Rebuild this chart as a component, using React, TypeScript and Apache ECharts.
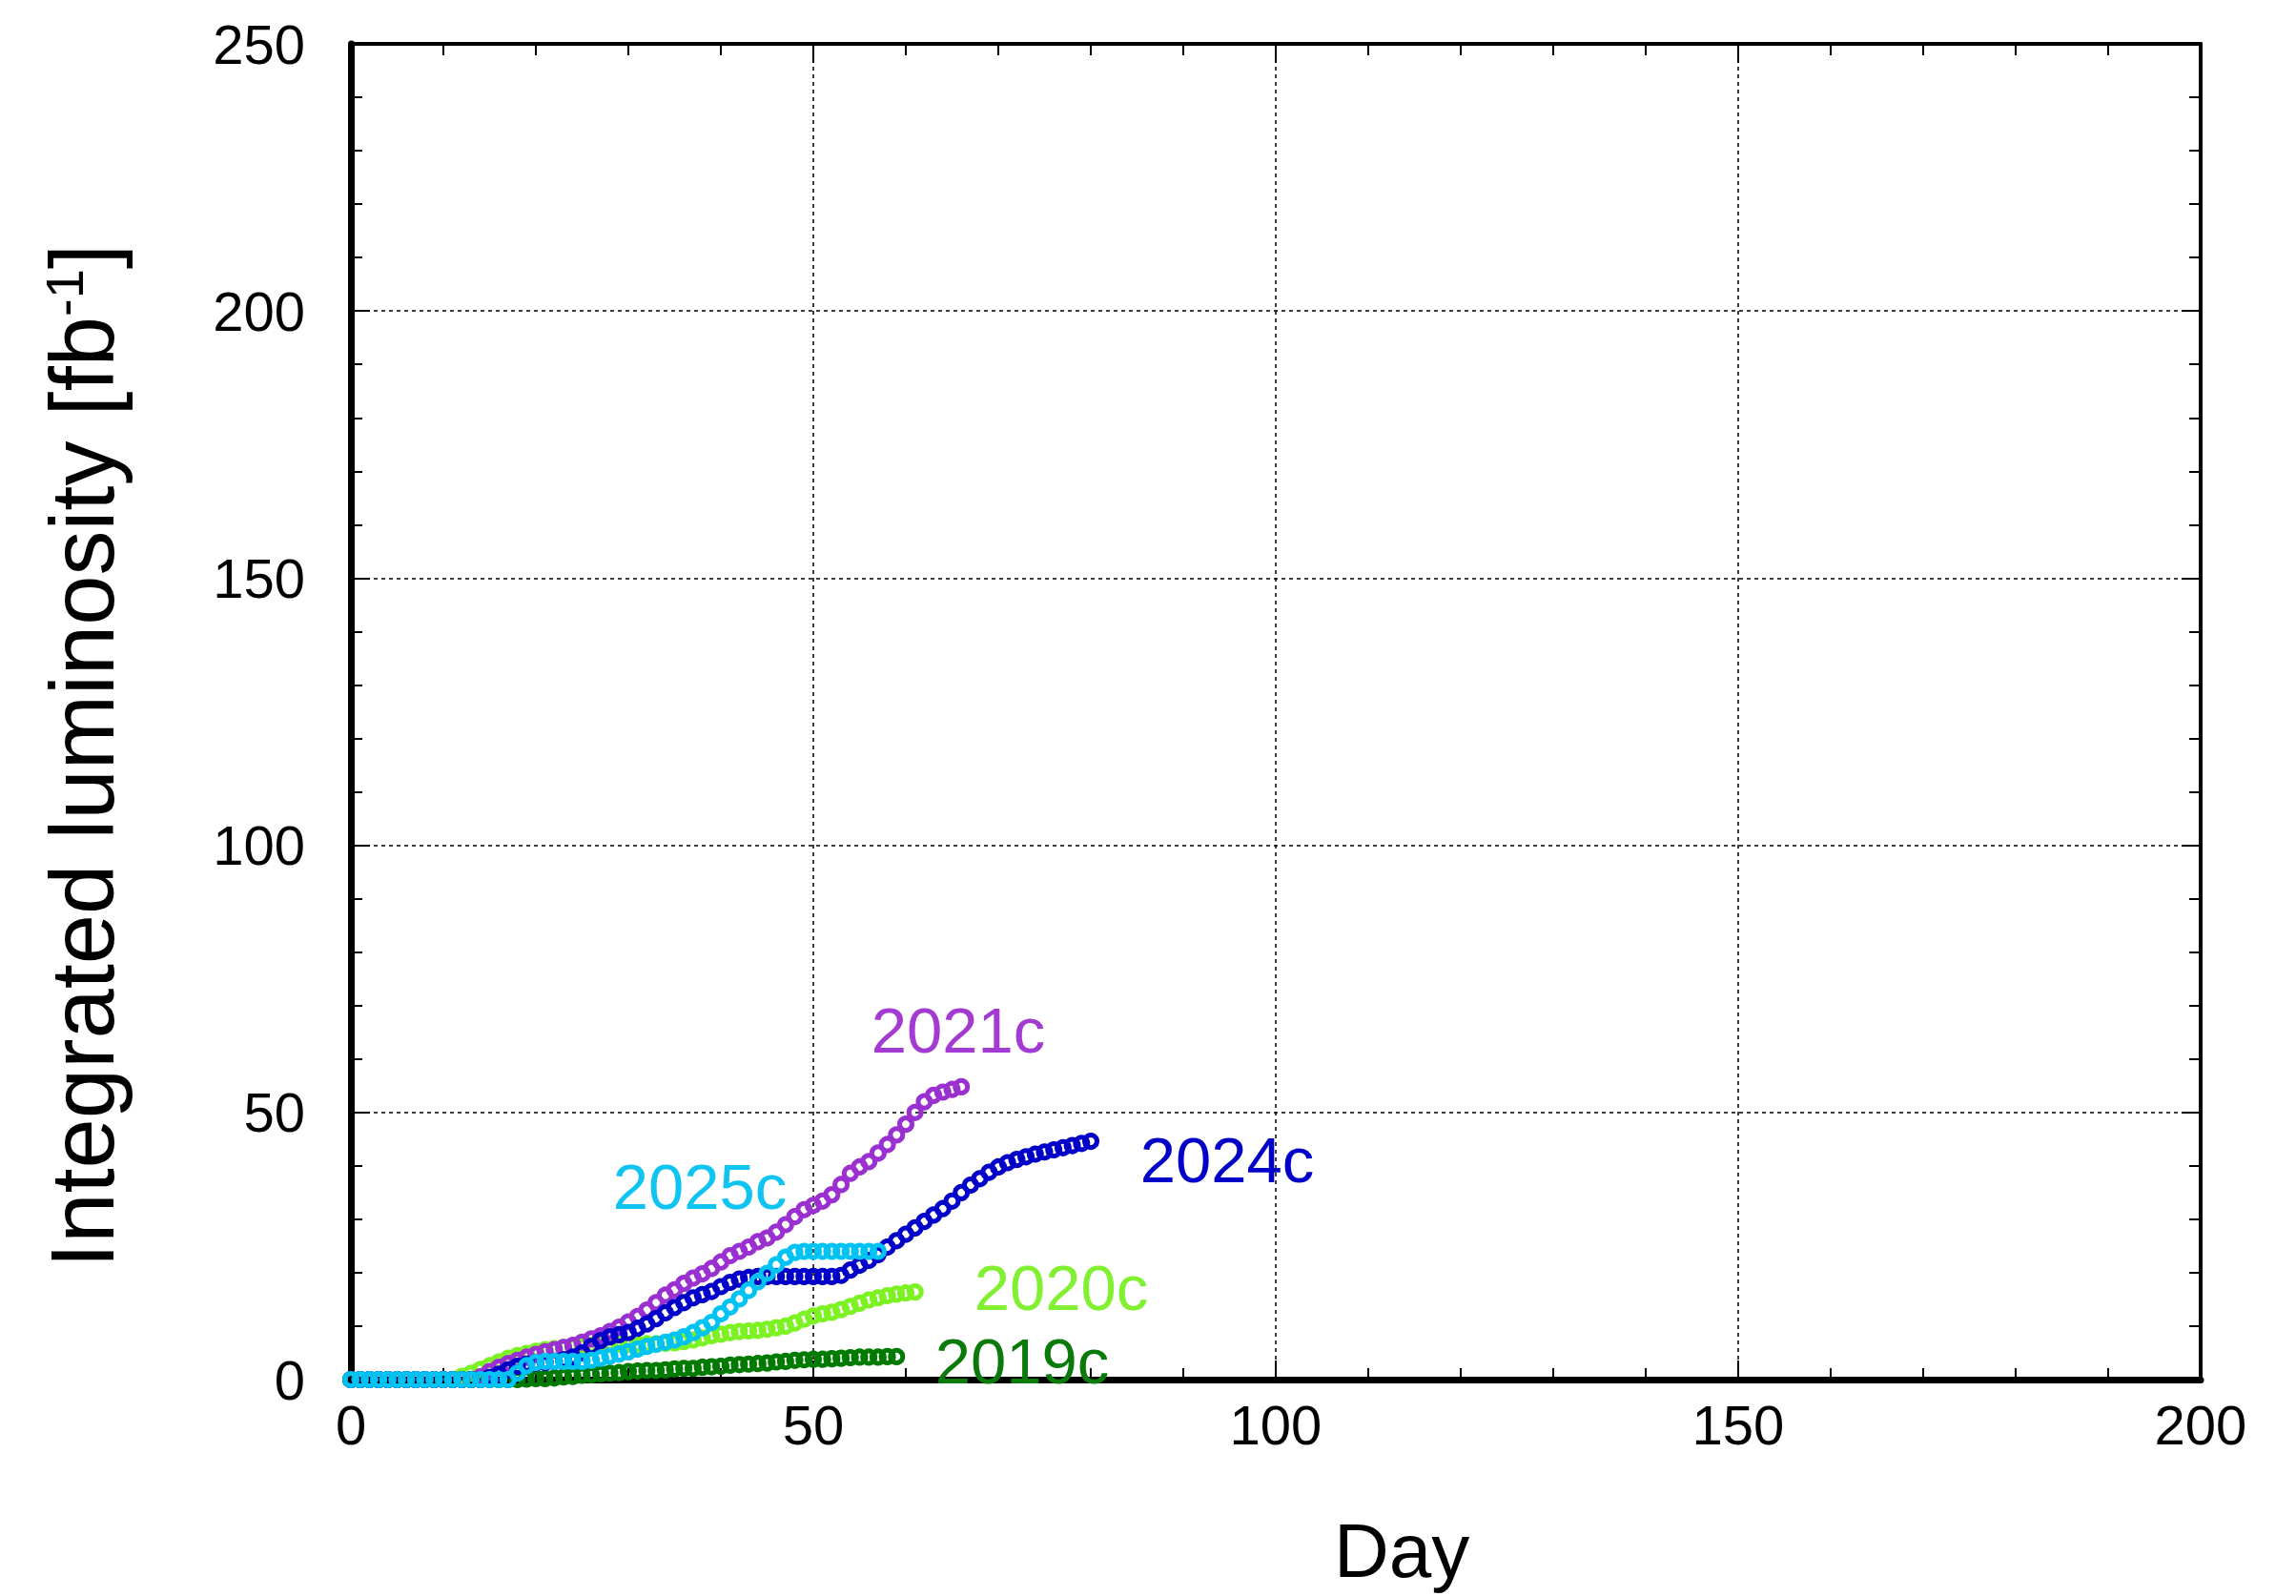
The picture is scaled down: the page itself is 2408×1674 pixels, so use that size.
import React, { useEffect, useRef } from "react";
import * as echarts from "echarts";

// ---- data (one value per day, starting at day 0) ----
const X_MIN = 0;
const X_MAX = 200;
const X_STEP = 50;
const Y_MIN = 0;
const Y_MAX = 250;
const Y_STEP = 50;

const lumi2019c = [
  0, 0, 0, 0, 0, 0, 0, 0, 0, 0,
  0, 0, 0, 0, 0, 0, 0, 0, 0, 0.1,
  0.2, 0.2, 0.3, 0.5, 0.6, 0.8, 0.9, 1.1, 1.2, 1.3,
  1.5, 1.6, 1.7, 1.7, 1.8, 2.0, 2.1, 2.1, 2.3, 2.4,
  2.5, 2.7, 2.8, 2.9, 3.0, 3.1, 3.3, 3.4, 3.6, 3.7,
  3.8, 3.8, 3.9, 4.0, 4.1, 4.2, 4.2, 4.2, 4.3, 4.3,
];

const lumi2020c = [
  0, 0, 0, 0, 0, 0, 0, 0, 0, 0,
  0, 0, 0.6, 1.2, 1.9, 2.6, 3.3, 4.0, 4.5, 4.9,
  5.3, 5.6, 5.8, 6.0, 6.2, 6.3, 6.4, 6.5, 6.5, 6.6,
  6.6, 6.6, 6.7, 6.7, 6.8, 6.9, 7.1, 7.4, 7.8, 8.2,
  8.5, 8.8, 9.0, 9.1, 9.2, 9.4, 9.7, 10.0, 10.6, 11.3,
  11.9, 12.3, 12.6, 13.1, 13.7, 14.3, 14.9, 15.3, 15.7, 16.0,
  16.2, 16.4,
];

const lumi2021c = [
  0, 0, 0, 0, 0, 0, 0, 0, 0, 0,
  0, 0, 0, 0, 0.5, 1.5, 2.3, 3.0, 3.6, 4.2,
  4.7, 5.2, 5.6, 6.0, 6.4, 7.0, 7.6, 8.2, 9.0, 9.8,
  10.8, 11.8, 13.0, 14.4, 15.8, 16.8, 18.0, 19.0, 19.8, 20.8,
  22.0, 23.2, 24.0, 24.8, 25.8, 26.5, 27.6, 29.0, 30.5, 31.8,
  32.6, 33.4, 34.6, 36.5, 38.6, 39.8, 40.8, 42.4, 44.0, 45.8,
  47.8, 50.0, 52.0, 53.2, 53.8, 54.3, 54.8,
];

const lumi2024c = [
  0, 0, 0, 0, 0, 0, 0, 0, 0, 0,
  0, 0, 0, 0, 0, 0.4, 1.0, 1.8, 2.5, 2.9,
  3.1, 3.2, 3.4, 3.7, 4.2, 5.0, 6.2, 7.3, 8.0, 8.4,
  8.8, 9.6, 10.4, 11.4, 12.5, 13.5, 14.4, 15.3, 15.9, 16.5,
  17.4, 18.2, 18.8, 19.1, 19.3, 19.3, 19.3, 19.3, 19.3, 19.3,
  19.3, 19.3, 19.3, 19.5, 20.5, 21.4, 22.3, 23.4, 24.8, 26.0,
  27.2, 28.4, 29.6, 30.8, 32.0, 33.4, 35.0, 36.4, 37.6, 38.8,
  39.8, 40.6, 41.2, 41.7, 42.2, 42.6, 43.0, 43.4, 43.8, 44.2,
  44.6,
];

const lumi2025c = [
  0, 0, 0, 0, 0, 0, 0, 0, 0, 0,
  0, 0, 0, 0, 0, 0, 0, 0, 1.2, 2.6,
  3.2, 3.4, 3.4, 3.4, 3.4, 3.4, 3.6, 4.0, 4.4, 4.8,
  5.2, 5.7, 6.2, 6.6, 7.0, 7.4, 8.0, 8.8, 9.7, 10.7,
  12.3, 13.6, 15.1, 16.7, 18.3, 19.9, 21.5, 22.9, 23.8, 24.0,
  24.0, 24.0, 24.0, 24.0, 24.0, 24.0, 24.0, 24.0,
];

const SERIES_NAMES = ["2019c", "2020c", "2021c", "2024c", "2025c"];
const SERIES_VALUES = [lumi2019c, lumi2020c, lumi2021c, lumi2024c, lumi2025c];

// ---- styles ----
const MARKER_COLORS: Record<string, string> = {
  "2019c": "#007a00",
  "2020c": "#7cf223",
  "2021c": "#9b30d0",
  "2024c": "#0000c8",
  "2025c": "#00c3f4",
};
const LABEL_COLORS: Record<string, string> = {
  "2019c": "#0a7a0a",
  "2020c": "#80f030",
  "2021c": "#a33bd3",
  "2024c": "#0000c8",
  "2025c": "#10c4f2",
};
const LABEL_POS: Record<string, [number, number]> = {
  "2021c": [1005, 1080],
  "2024c": [1287, 1216],
  "2025c": [734, 1244],
  "2020c": [1113, 1350],
  "2019c": [1072, 1427],
};

const TICK_FONT = "'Liberation Sans', Arial, sans-serif";
const LABEL_FONT = "'Liberation Sans', Arial, sans-serif";

export default function App() {
  const ref = useRef<HTMLDivElement>(null);

  useEffect(() => {
    const chart = echarts.init(ref.current as HTMLDivElement, null, { renderer: "svg" });

    const makeAxis = (kind: "x" | "y", position: string, main: boolean) => ({
      type: "value",
      position,
      min: kind === "x" ? X_MIN : Y_MIN,
      max: kind === "x" ? X_MAX : Y_MAX,
      interval: kind === "x" ? X_STEP : Y_STEP,
      axisLine: {
        show: true,
        onZero: false,
        lineStyle: { color: "#000", width: main ? 7 : 4 },
      },
      axisTick: {
        show: true,
        inside: true,
        length: 20,
        lineStyle: { color: "#000", width: 2 },
      },
      minorTick: {
        show: true,
        splitNumber: 5,
        length: 12,
        lineStyle: { color: "#000", width: 2 },
      },
      axisLabel: {
        show: main,
        fontSize: 58,
        color: "#000",
        fontFamily: TICK_FONT,
        margin: kind === "x" ? 18 : 48,
      },
      splitLine: {
        show: main,
        lineStyle: { color: "#000", width: 1.5, type: [4, 4] },
      },
      minorSplitLine: { show: false },
    });

    const series = SERIES_NAMES.map((name, k) => ({
      name,
      type: "scatter",
      xAxisIndex: 0,
      yAxisIndex: 0,
      symbol: "circle",
      symbolSize: 13,
      clip: false,
      itemStyle: {
        color: "rgba(255,255,255,0)",
        borderColor: MARKER_COLORS[name],
        borderWidth: 5,
        opacity: 1,
      },
      emphasis: { disabled: true },
      data: SERIES_VALUES[k].map((v, day) => [day, v]),
      z: 2 + k,
    }));

    const labelGraphics = SERIES_NAMES.map((name) => ({
      type: "text",
      x: LABEL_POS[name][0],
      y: LABEL_POS[name][1],
      z: 100,
      style: {
        text: name,
        fill: LABEL_COLORS[name],
        fontSize: 67,
        fontFamily: LABEL_FONT,
        align: "center",
        verticalAlign: "middle",
      },
    }));

    chart.setOption({
      animation: false,
      backgroundColor: "#fff",
      grid: { left: 368, right: 100, top: 46, bottom: 227, containLabel: false },
      xAxis: [makeAxis("x", "bottom", true), makeAxis("x", "top", false)],
      yAxis: [makeAxis("y", "left", true), makeAxis("y", "right", false)],
      series,
      graphic: [
        ...labelGraphics,
        {
          type: "text",
          x: 1470,
          y: 1626,
          style: {
            text: "Day",
            fill: "#000",
            fontSize: 80,
            fontFamily: TICK_FONT,
            align: "center",
            verticalAlign: "middle",
          },
        },
        {
          type: "text",
          x: 86,
          y: 793,
          rotation: Math.PI / 2,
          style: {
            text: "{a|Integrated luminosity [fb}{s|-1}{a|]}",
            fill: "#000",
            align: "center",
            verticalAlign: "middle",
            rich: {
              a: { fontSize: 94, fontFamily: TICK_FONT, fill: "#000" },
              s: { fontSize: 56, fontFamily: TICK_FONT, fill: "#000", verticalAlign: "top" },
            },
          },
        },
      ],
    });

    return () => chart.dispose();
  }, []);

  return (
    <div
      ref={ref}
      style={{
        position: "absolute",
        left: 0,
        top: 0,
        width: 2408,
        height: 1674,
        background: "#fff",
      }}
    />
  );
}
